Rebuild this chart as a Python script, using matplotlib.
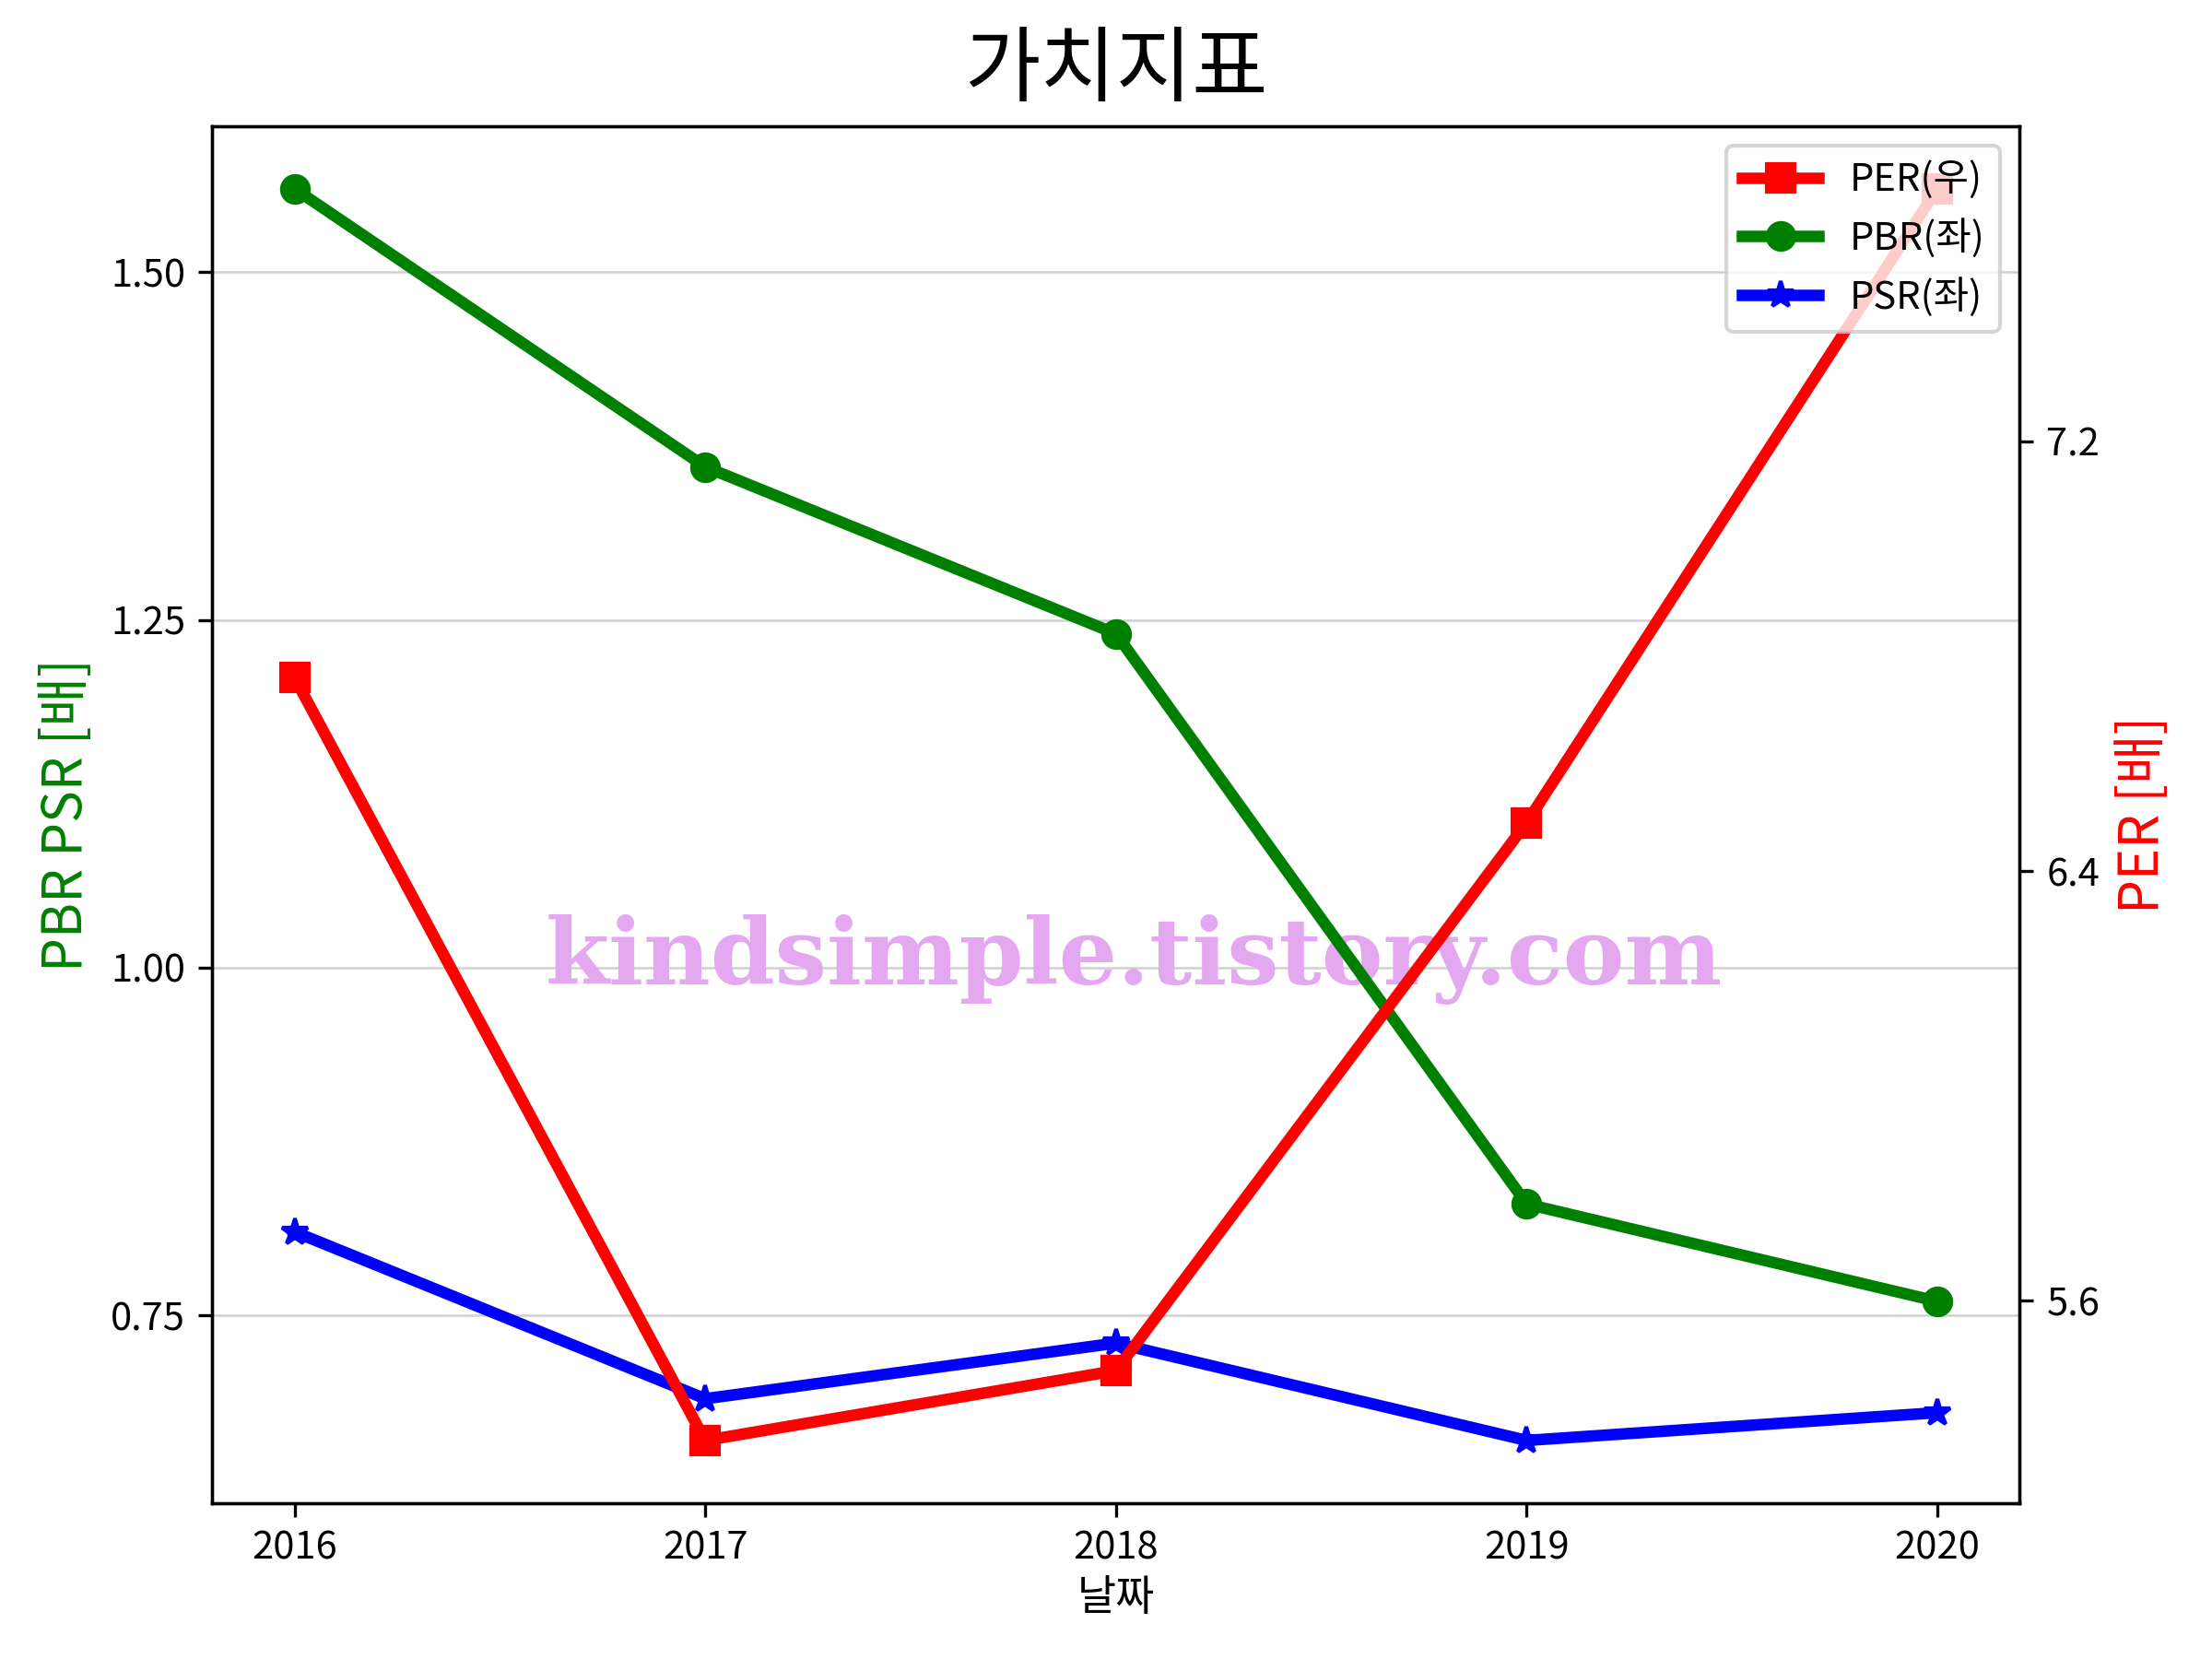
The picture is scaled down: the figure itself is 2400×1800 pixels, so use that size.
import matplotlib
matplotlib.use('Agg')
import matplotlib.pyplot as plt
from matplotlib.ticker import FormatStrFormatter

plt.rcParams['font.family'] = ['Noto Sans CJK KR', 'DejaVu Sans']
plt.rcParams['axes.unicode_minus'] = False

# data
years = ['2016', '2017', '2018', '2019', '2020']
per = [6.76, 5.34, 5.47, 6.49, 7.67]
pbr = [1.56, 1.36, 1.24, 0.83, 0.76]
psr = [0.81, 0.69, 0.73, 0.66, 0.68]
left_ticks = [0.75, 1.00, 1.25, 1.50]
right_ticks = [5.6, 6.4, 7.2]

fig, ax1 = plt.subplots(figsize=(8, 6), dpi=300)
fig.subplots_adjust(left=0.096, right=0.913, top=0.924, bottom=0.094)
ax2 = ax1.twinx()

l2, = ax1.plot(years, pbr, color='green', marker='o', lw=3, ms=7, label='PBR(좌)', zorder=3)
l3, = ax1.plot(years, psr, color='blue', marker='*', lw=3, ms=7, label='PSR(좌)', zorder=3)
l1, = ax2.plot(years, per, color='red', marker='s', lw=3, ms=7, label='PER(우)', zorder=3)

ax1.set_yticks(left_ticks)
ax1.yaxis.set_major_formatter(FormatStrFormatter('%.2f'))
ax2.set_yticks(right_ticks)
ax2.yaxis.set_major_formatter(FormatStrFormatter('%.1f'))
ax1.grid(axis='y', color='#d0d0d0', lw=0.6)
ax1.set_axisbelow(True)

ax1.set_ylabel('PBR PSR [배]', color='green', fontsize=14)
ax2.set_ylabel('PER [배]', color='red', fontsize=14)
ax1.set_xlabel('날짜', fontsize=11, labelpad=2)
ax1.set_title('가치지표', fontsize=21.5, pad=8)
ax1.tick_params(labelsize=10)
ax2.tick_params(labelsize=10)

# watermark
ax1.text(0.51, 0.395, 'kindsimple.tistory.com', transform=ax1.transAxes,
         ha='center', va='center', fontsize=24, fontweight='bold',
         family='DejaVu Serif', color='#e3a8ef', zorder=1)

ax2.legend(handles=[l1, l2, l3], loc='upper right', fontsize=10,
           handlelength=2.0, borderpad=0.4, labelspacing=0.5)

plt.savefig('out.png', dpi=300)
